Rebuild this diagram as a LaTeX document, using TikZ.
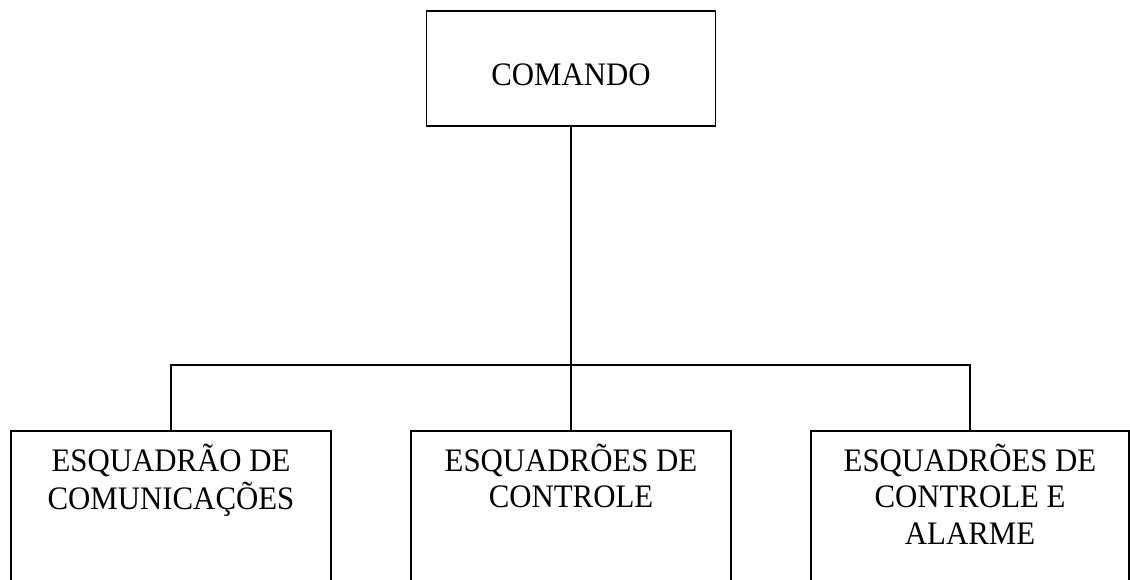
\documentclass[tikz,border=0pt]{standalone}
\usepackage{fontspec}
\usepackage{graphicx}
\setmainfont{Liberation Serif}
\newcommand{\narrowtxt}[1]{\scalebox{0.94}[1]{#1}}
\begin{document}
\begin{tikzpicture}[x=0.5pt,y=-0.5pt,
  box/.style={draw=black, line width=0.8pt, rectangle, inner sep=0pt},
  lbl/.style={inner sep=0pt, font=\fontsize{16.4}{18.2}\selectfont, text=black},
  conn/.style={draw=black, line width=0.8pt}]
\useasboundingbox (0,0) rectangle (1130,579);
\clip (0,0) rectangle (1130,579);
% top box
\node[box, minimum width=144.5pt, minimum height=57.5pt] (top) at (571,68.5) {};
\node[lbl, anchor=base] (ttop) at (571,85) {\narrowtxt{COMANDO}};
% bottom boxes (cut by the lower edge)
\node[box, minimum width=160pt, minimum height=90pt] (b1) at (171,521) {};
\node[box, minimum width=160pt, minimum height=90pt] (b2) at (571,521) {};
\node[box, minimum width=159pt, minimum height=90pt] (b3) at (970,521) {};
\node[lbl, anchor=base] (t1) at (171,471.5) {\narrowtxt{\begin{tabular}[t]{@{}c@{}}ESQUADRÃO DE\\COMUNICAÇÕES\end{tabular}}};
\node[lbl, anchor=base] (t2) at (571,471.5) {\narrowtxt{\begin{tabular}[t]{@{}c@{}}ESQUADRÕES DE\\CONTROLE\end{tabular}}};
\node[lbl, anchor=base] (t3) at (970,471.5) {\narrowtxt{\begin{tabular}[t]{@{}c@{}}ESQUADRÕES DE\\CONTROLE E\\ALARME\end{tabular}}};
% connectors
\coordinate (bus) at (571,365);
\draw[conn] (top.south) -- (bus);
\draw[conn] (b1.north) |- (bus) -| (b3.north);
\draw[conn] (bus) -- (b2.north);
\end{tikzpicture}
\end{document}
